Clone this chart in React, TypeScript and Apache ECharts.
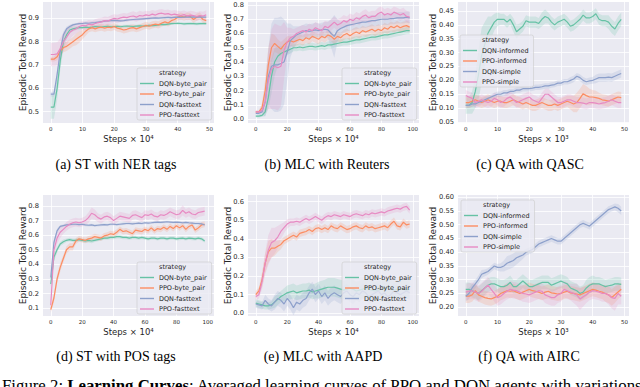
import React, { useEffect, useRef } from "react";
import * as echarts from "echarts";

const COLORS = ["#66c2a5", "#fc8d62", "#8da0cb", "#e78ac3"];
const FONT = "DejaVu Sans";
const SERIF = '"Liberation Serif", "Times New Roman", serif';

const STEPS_50 = [0,1,2,3,4,5,6,7,8,9,10,11,12,13,14,15,16,17,18,19,20,21,22,23,24,25,26,27,28,29,30,31,32,33,34,35,36,37,38,39,40,41,42,43,44,45,46,47,48,49];
const STEPS_100 = [0,2,4,6,8,10,12,14,16,18,20,22,24,26,28,30,32,34,36,38,40,42,44,46,48,50,52,54,56,58,60,62,64,66,68,70,72,74,76,78,80,82,84,86,88,90,92,94,96,98];
const TICKS_50 = [0, 10, 20, 30, 40, 50];
const TICKS_100 = [0, 20, 40, 60, 80, 100];

const NAMES_TEXT = ["DQN-byte_pair", "PPO-byte_pair", "DQN-fasttext", "PPO-fasttext"];
const NAMES_QA = ["DQN-informed", "PPO-informed", "DQN-simple", "PPO-simple"];

// (a) ST with NER tags
const A_DQN_BP = [0.52,0.52,0.60,0.72,0.80,0.83,0.85,0.855,0.858,0.86,0.86,0.862,0.86,0.862,0.865,0.864,0.862,0.865,0.866,0.864,0.865,0.866,0.864,0.866,0.867,0.866,0.865,0.867,0.868,0.867,0.868,0.87,0.869,0.87,0.872,0.874,0.873,0.875,0.877,0.878,0.879,0.878,0.876,0.877,0.878,0.877,0.876,0.877,0.878,0.877];
const A_PPO_BP = [0.725,0.725,0.735,0.76,0.775,0.78,0.79,0.80,0.81,0.82,0.83,0.845,0.855,0.86,0.855,0.86,0.862,0.858,0.862,0.86,0.865,0.858,0.855,0.85,0.853,0.858,0.86,0.855,0.86,0.865,0.87,0.866,0.872,0.875,0.872,0.88,0.885,0.88,0.89,0.895,0.905,0.91,0.905,0.91,0.908,0.895,0.905,0.91,0.895,0.89];
const A_DQN_FT = [0.575,0.575,0.66,0.76,0.83,0.855,0.865,0.872,0.875,0.877,0.878,0.88,0.879,0.881,0.882,0.884,0.886,0.888,0.889,0.89,0.891,0.89,0.889,0.89,0.892,0.894,0.895,0.896,0.897,0.898,0.899,0.9,0.901,0.902,0.901,0.902,0.903,0.904,0.903,0.904,0.905,0.904,0.905,0.906,0.905,0.906,0.905,0.906,0.905,0.905];
const A_PPO_FT = [0.745,0.745,0.748,0.77,0.80,0.82,0.84,0.85,0.855,0.865,0.87,0.868,0.875,0.872,0.878,0.882,0.885,0.89,0.888,0.895,0.9,0.897,0.902,0.905,0.903,0.908,0.91,0.905,0.912,0.91,0.915,0.912,0.918,0.914,0.92,0.922,0.918,0.92,0.915,0.918,0.915,0.912,0.916,0.91,0.914,0.912,0.908,0.912,0.91,0.915];
const A_BAND_DQN_BP = [0.05,0.05,0.05,0.04,0.03,0.02,0.015,0.01,0.008,0.007,0.006,0.006,0.006,0.006,0.006,0.006,0.006,0.006,0.006,0.006,0.006,0.006,0.006,0.006,0.006,0.006,0.006,0.006,0.006,0.006,0.006,0.006,0.006,0.006,0.006,0.006,0.006,0.006,0.006,0.006,0.006,0.006,0.006,0.006,0.006,0.006,0.006,0.006,0.006,0.006];
const A_BAND_PPO_BP = [0.01,0.01,0.015,0.02,0.02,0.02,0.02,0.02,0.025,0.025,0.02,0.02,0.015,0.015,0.015,0.015,0.015,0.015,0.015,0.015,0.015,0.015,0.015,0.015,0.015,0.015,0.015,0.015,0.015,0.015,0.015,0.015,0.015,0.015,0.015,0.015,0.015,0.015,0.015,0.015,0.015,0.015,0.015,0.015,0.015,0.015,0.015,0.015,0.015,0.015];
const A_BAND_DQN_FT = [0.01,0.01,0.02,0.02,0.015,0.01,0.008,0.006,0.005,0.005,0.005,0.005,0.005,0.005,0.005,0.005,0.005,0.005,0.005,0.005,0.005,0.005,0.005,0.005,0.005,0.005,0.005,0.005,0.005,0.005,0.005,0.005,0.005,0.005,0.005,0.005,0.005,0.005,0.005,0.005,0.005,0.005,0.005,0.005,0.005,0.005,0.005,0.005,0.005,0.005];
const A_BAND_PPO_FT = [0.05,0.05,0.05,0.045,0.04,0.035,0.03,0.025,0.02,0.02,0.018,0.018,0.018,0.018,0.018,0.018,0.018,0.018,0.018,0.018,0.018,0.018,0.018,0.018,0.018,0.018,0.02,0.02,0.02,0.018,0.018,0.018,0.018,0.018,0.018,0.018,0.018,0.018,0.018,0.018,0.018,0.018,0.018,0.018,0.018,0.018,0.018,0.018,0.018,0.02];

// (b) MLC with Reuters
const B_DQN_BP = [0.02,0.02,0.025,0.05,0.15,0.30,0.40,0.44,0.46,0.47,0.48,0.49,0.50,0.50,0.505,0.50,0.505,0.51,0.51,0.505,0.51,0.515,0.51,0.52,0.52,0.525,0.53,0.535,0.54,0.54,0.545,0.55,0.555,0.555,0.56,0.565,0.57,0.575,0.575,0.58,0.585,0.59,0.59,0.595,0.60,0.605,0.61,0.615,0.62,0.62];
const B_PPO_BP = [0.05,0.05,0.08,0.2,0.38,0.50,0.53,0.51,0.49,0.52,0.54,0.55,0.54,0.55,0.56,0.55,0.57,0.56,0.58,0.57,0.56,0.58,0.57,0.59,0.58,0.56,0.58,0.57,0.59,0.60,0.585,0.60,0.61,0.60,0.62,0.61,0.62,0.63,0.615,0.63,0.62,0.64,0.63,0.65,0.64,0.655,0.64,0.65,0.655,0.645];
const B_DQN_FT = [0.04,0.04,0.05,0.12,0.30,0.37,0.38,0.38,0.39,0.40,0.47,0.55,0.57,0.59,0.60,0.61,0.62,0.615,0.62,0.625,0.62,0.625,0.63,0.625,0.60,0.58,0.62,0.635,0.645,0.655,0.66,0.665,0.67,0.675,0.68,0.68,0.685,0.69,0.69,0.695,0.70,0.70,0.70,0.705,0.705,0.71,0.71,0.71,0.715,0.71];
const B_PPO_FT = [0.05,0.05,0.06,0.12,0.27,0.35,0.37,0.36,0.37,0.48,0.54,0.57,0.58,0.60,0.61,0.62,0.61,0.63,0.62,0.64,0.63,0.62,0.65,0.64,0.66,0.68,0.66,0.67,0.69,0.68,0.70,0.69,0.71,0.70,0.72,0.73,0.71,0.72,0.72,0.74,0.75,0.73,0.74,0.73,0.75,0.74,0.73,0.74,0.72,0.715];
const B_BAND_DQN_BP = [0.01,0.01,0.01,0.03,0.08,0.12,0.1,0.07,0.05,0.04,0.03,0.03,0.025,0.025,0.025,0.025,0.025,0.025,0.025,0.025,0.025,0.025,0.025,0.025,0.025,0.025,0.025,0.025,0.025,0.025,0.025,0.025,0.025,0.025,0.025,0.025,0.025,0.025,0.025,0.025,0.025,0.025,0.025,0.025,0.025,0.025,0.025,0.025,0.025,0.025];
const B_BAND_PPO_BP = [0.01,0.01,0.03,0.08,0.12,0.1,0.06,0.05,0.05,0.04,0.04,0.035,0.035,0.035,0.035,0.035,0.035,0.035,0.035,0.035,0.035,0.035,0.035,0.035,0.035,0.035,0.035,0.035,0.035,0.035,0.035,0.035,0.035,0.035,0.035,0.035,0.035,0.035,0.035,0.035,0.035,0.035,0.035,0.035,0.035,0.035,0.035,0.035,0.035,0.035];
const B_BAND_DQN_FT = [0.01,0.01,0.02,0.1,0.2,0.3,0.33,0.33,0.33,0.3,0.2,0.12,0.08,0.06,0.05,0.05,0.05,0.05,0.05,0.05,0.05,0.05,0.05,0.06,0.1,0.15,0.08,0.05,0.04,0.04,0.04,0.04,0.04,0.04,0.04,0.04,0.04,0.04,0.04,0.04,0.04,0.04,0.04,0.04,0.04,0.04,0.04,0.04,0.04,0.04];
const B_BAND_PPO_FT = [0.01,0.01,0.02,0.08,0.2,0.28,0.3,0.3,0.28,0.2,0.1,0.07,0.05,0.04,0.04,0.04,0.04,0.04,0.04,0.04,0.04,0.04,0.04,0.04,0.04,0.04,0.04,0.04,0.04,0.04,0.04,0.04,0.04,0.04,0.04,0.04,0.04,0.04,0.04,0.04,0.04,0.04,0.04,0.04,0.04,0.04,0.04,0.04,0.04,0.04];

// (c) QA with QASC
const C_DQN_INF = [0.11,0.11,0.12,0.16,0.22,0.29,0.33,0.37,0.39,0.41,0.42,0.42,0.42,0.41,0.42,0.40,0.375,0.385,0.395,0.415,0.41,0.41,0.41,0.405,0.42,0.43,0.425,0.41,0.40,0.41,0.415,0.42,0.41,0.395,0.40,0.41,0.42,0.435,0.425,0.425,0.43,0.44,0.42,0.415,0.415,0.41,0.395,0.385,0.405,0.42];
const C_PPO_INF = [0.12,0.12,0.125,0.13,0.125,0.12,0.125,0.13,0.125,0.12,0.125,0.125,0.12,0.12,0.125,0.13,0.125,0.12,0.115,0.12,0.115,0.11,0.11,0.115,0.12,0.115,0.11,0.11,0.115,0.11,0.115,0.12,0.125,0.12,0.115,0.12,0.135,0.152,0.145,0.14,0.14,0.138,0.135,0.13,0.128,0.125,0.13,0.135,0.14,0.138];
const C_DQN_SIM = [0.11,0.11,0.115,0.115,0.12,0.125,0.13,0.135,0.14,0.145,0.15,0.15,0.155,0.155,0.16,0.16,0.165,0.165,0.17,0.17,0.17,0.172,0.175,0.175,0.177,0.18,0.18,0.183,0.185,0.19,0.19,0.195,0.195,0.20,0.205,0.215,0.21,0.20,0.195,0.198,0.20,0.205,0.21,0.21,0.21,0.212,0.21,0.215,0.22,0.225];
const C_PPO_SIM = [0.145,0.14,0.135,0.12,0.125,0.13,0.125,0.12,0.125,0.135,0.13,0.12,0.125,0.135,0.14,0.13,0.12,0.125,0.13,0.135,0.14,0.13,0.125,0.12,0.135,0.15,0.15,0.14,0.13,0.12,0.12,0.125,0.13,0.13,0.125,0.12,0.12,0.118,0.115,0.12,0.12,0.118,0.115,0.118,0.12,0.125,0.13,0.125,0.12,0.12];
const C_BAND_DQN_INF = [0.03,0.03,0.04,0.06,0.09,0.1,0.08,0.06,0.04,0.03,0.025,0.02,0.02,0.02,0.02,0.025,0.025,0.02,0.02,0.02,0.02,0.02,0.02,0.02,0.025,0.025,0.02,0.02,0.02,0.02,0.02,0.02,0.02,0.02,0.02,0.02,0.02,0.02,0.02,0.02,0.02,0.02,0.02,0.02,0.02,0.025,0.025,0.025,0.025,0.025];
const C_BAND_PPO_INF = [0.02,0.02,0.02,0.02,0.02,0.02,0.02,0.02,0.02,0.02,0.02,0.02,0.02,0.02,0.02,0.02,0.02,0.02,0.02,0.02,0.02,0.02,0.02,0.02,0.02,0.02,0.02,0.02,0.02,0.02,0.02,0.02,0.02,0.025,0.03,0.035,0.035,0.035,0.035,0.03,0.025,0.025,0.02,0.02,0.02,0.02,0.02,0.02,0.02,0.02];
const C_BAND_DQN_SIM = [0.01,0.01,0.01,0.01,0.01,0.01,0.01,0.01,0.01,0.01,0.01,0.01,0.01,0.01,0.01,0.01,0.01,0.01,0.01,0.01,0.01,0.01,0.01,0.01,0.01,0.01,0.01,0.01,0.01,0.01,0.01,0.01,0.01,0.012,0.012,0.012,0.012,0.012,0.012,0.012,0.012,0.015,0.015,0.015,0.015,0.015,0.015,0.015,0.015,0.015];
const C_BAND_PPO_SIM = [0.02,0.02,0.02,0.02,0.02,0.02,0.02,0.02,0.02,0.02,0.02,0.02,0.02,0.02,0.02,0.02,0.02,0.02,0.02,0.02,0.02,0.02,0.02,0.02,0.02,0.02,0.02,0.02,0.02,0.02,0.02,0.02,0.02,0.02,0.02,0.02,0.02,0.02,0.02,0.02,0.02,0.02,0.02,0.02,0.02,0.02,0.02,0.02,0.02,0.02];

// (d) ST with POS tags
const D_DQN_BP = [0.265,0.45,0.50,0.54,0.555,0.565,0.57,0.565,0.565,0.57,0.565,0.56,0.565,0.56,0.565,0.57,0.575,0.58,0.58,0.585,0.585,0.59,0.59,0.585,0.585,0.58,0.585,0.585,0.58,0.585,0.58,0.575,0.58,0.58,0.575,0.58,0.58,0.575,0.58,0.58,0.575,0.578,0.58,0.575,0.58,0.578,0.575,0.58,0.575,0.56];
const D_PPO_BP = [0.09,0.17,0.30,0.38,0.44,0.50,0.52,0.52,0.56,0.575,0.57,0.565,0.575,0.58,0.59,0.585,0.58,0.595,0.60,0.61,0.605,0.62,0.64,0.625,0.63,0.62,0.61,0.635,0.63,0.625,0.64,0.63,0.65,0.63,0.645,0.64,0.655,0.64,0.66,0.645,0.665,0.65,0.665,0.64,0.66,0.67,0.635,0.65,0.67,0.675];
const D_DQN_FT = [0.31,0.55,0.63,0.66,0.665,0.67,0.672,0.675,0.675,0.672,0.675,0.67,0.668,0.67,0.665,0.668,0.67,0.672,0.67,0.675,0.675,0.672,0.675,0.678,0.68,0.68,0.678,0.68,0.682,0.68,0.685,0.683,0.685,0.688,0.69,0.688,0.69,0.692,0.69,0.688,0.69,0.688,0.685,0.688,0.685,0.683,0.68,0.68,0.678,0.67];
const D_PPO_FT = [0.12,0.50,0.58,0.62,0.64,0.66,0.675,0.685,0.69,0.685,0.69,0.70,0.72,0.75,0.74,0.72,0.71,0.725,0.73,0.72,0.70,0.715,0.73,0.725,0.72,0.715,0.735,0.74,0.73,0.72,0.74,0.735,0.745,0.73,0.725,0.74,0.735,0.745,0.76,0.75,0.74,0.745,0.77,0.75,0.76,0.745,0.74,0.755,0.76,0.765];
const D_BAND_DQN_BP = [0.02,0.03,0.02,0.015,0.015,0.012,0.012,0.012,0.012,0.012,0.012,0.012,0.015,0.015,0.012,0.012,0.012,0.012,0.012,0.012,0.012,0.012,0.012,0.012,0.012,0.012,0.012,0.012,0.012,0.012,0.012,0.012,0.012,0.012,0.012,0.012,0.012,0.012,0.012,0.012,0.012,0.012,0.012,0.012,0.012,0.012,0.012,0.012,0.012,0.012];
const D_BAND_PPO_BP = [0.02,0.03,0.03,0.03,0.025,0.025,0.025,0.025,0.02,0.02,0.02,0.02,0.02,0.02,0.02,0.02,0.02,0.02,0.02,0.02,0.02,0.02,0.02,0.02,0.02,0.02,0.02,0.02,0.02,0.02,0.02,0.02,0.02,0.02,0.02,0.02,0.02,0.02,0.02,0.02,0.02,0.02,0.02,0.02,0.02,0.02,0.02,0.02,0.02,0.02];
const D_BAND_DQN_FT = [0.02,0.02,0.015,0.01,0.008,0.008,0.008,0.008,0.008,0.008,0.008,0.008,0.008,0.008,0.008,0.008,0.008,0.008,0.008,0.008,0.008,0.008,0.008,0.008,0.008,0.008,0.008,0.008,0.008,0.008,0.008,0.008,0.008,0.008,0.008,0.008,0.008,0.008,0.008,0.008,0.008,0.008,0.008,0.008,0.008,0.008,0.008,0.008,0.008,0.008];
const D_BAND_PPO_FT = [0.03,0.05,0.04,0.04,0.03,0.03,0.03,0.03,0.03,0.03,0.03,0.03,0.035,0.04,0.035,0.03,0.03,0.03,0.03,0.03,0.03,0.03,0.03,0.03,0.03,0.03,0.03,0.03,0.03,0.03,0.03,0.03,0.03,0.03,0.03,0.03,0.03,0.03,0.03,0.03,0.03,0.03,0.035,0.03,0.03,0.03,0.03,0.03,0.03,0.03];

// (e) MLC with AAPD
const E_DQN_BP = [0.055,0.05,0.045,0.04,0.04,0.045,0.06,0.075,0.09,0.10,0.11,0.115,0.12,0.11,0.115,0.12,0.12,0.125,0.115,0.12,0.125,0.13,0.135,0.14,0.14,0.14,0.135,0.13,0.125,0.13,0.135,0.13,0.12,0.125,0.13,0.135,0.13,0.125,0.12,0.125,0.13,0.135,0.14,0.13,0.125,0.13,0.135,0.13,0.125,0.13];
const E_PPO_BP = [0.10,0.12,0.18,0.27,0.33,0.35,0.35,0.36,0.37,0.39,0.40,0.41,0.42,0.41,0.43,0.435,0.44,0.45,0.44,0.455,0.46,0.45,0.46,0.45,0.47,0.46,0.455,0.47,0.46,0.45,0.455,0.465,0.47,0.46,0.455,0.47,0.46,0.465,0.455,0.46,0.465,0.47,0.46,0.48,0.495,0.47,0.465,0.49,0.475,0.48];
const E_DQN_FT = [0.05,0.045,0.04,0.07,0.05,0.04,0.06,0.08,0.07,0.05,0.08,0.06,0.03,0.06,0.05,0.07,0.08,0.11,0.13,0.10,0.12,0.09,0.11,0.08,0.10,0.11,0.10,0.09,0.11,0.12,0.10,0.09,0.11,0.10,0.12,0.11,0.09,0.10,0.11,0.12,0.10,0.11,0.09,0.10,0.12,0.11,0.10,0.11,0.12,0.11];
const E_PPO_FT = [0.09,0.10,0.17,0.27,0.34,0.38,0.39,0.41,0.44,0.46,0.48,0.49,0.49,0.495,0.49,0.50,0.51,0.50,0.51,0.52,0.51,0.50,0.515,0.525,0.52,0.53,0.525,0.52,0.53,0.525,0.52,0.53,0.535,0.53,0.525,0.535,0.53,0.54,0.535,0.54,0.545,0.54,0.55,0.555,0.56,0.565,0.56,0.57,0.575,0.555];
const E_BAND_DQN_BP = [0.02,0.02,0.02,0.02,0.02,0.02,0.03,0.03,0.03,0.035,0.04,0.04,0.04,0.04,0.04,0.04,0.04,0.04,0.04,0.04,0.045,0.045,0.045,0.05,0.05,0.05,0.05,0.05,0.05,0.05,0.05,0.05,0.05,0.05,0.05,0.05,0.05,0.05,0.05,0.05,0.05,0.05,0.05,0.05,0.05,0.05,0.05,0.05,0.05,0.05];
const E_BAND_PPO_BP = [0.02,0.02,0.04,0.05,0.06,0.05,0.04,0.03,0.025,0.02,0.02,0.02,0.02,0.02,0.02,0.02,0.02,0.02,0.02,0.02,0.02,0.02,0.02,0.02,0.02,0.02,0.02,0.02,0.02,0.02,0.02,0.02,0.02,0.02,0.02,0.02,0.02,0.02,0.02,0.02,0.02,0.02,0.02,0.02,0.02,0.02,0.02,0.02,0.02,0.02];
const E_BAND_DQN_FT = [0.02,0.02,0.02,0.03,0.03,0.03,0.04,0.04,0.04,0.04,0.04,0.04,0.04,0.04,0.04,0.04,0.04,0.04,0.04,0.04,0.04,0.04,0.04,0.04,0.04,0.04,0.04,0.04,0.04,0.04,0.04,0.04,0.04,0.04,0.04,0.04,0.04,0.04,0.04,0.04,0.04,0.04,0.04,0.04,0.04,0.04,0.04,0.04,0.04,0.04];
const E_BAND_PPO_FT = [0.02,0.02,0.04,0.06,0.08,0.08,0.07,0.06,0.04,0.03,0.025,0.02,0.02,0.02,0.02,0.02,0.02,0.02,0.02,0.02,0.02,0.02,0.02,0.02,0.02,0.02,0.02,0.02,0.02,0.02,0.02,0.02,0.02,0.02,0.02,0.02,0.02,0.02,0.02,0.02,0.02,0.02,0.02,0.02,0.02,0.02,0.02,0.02,0.02,0.02];

// (f) QA with AIRC
const F_DQN_INF = [0.265,0.265,0.26,0.255,0.25,0.26,0.27,0.28,0.285,0.285,0.28,0.275,0.275,0.28,0.29,0.275,0.275,0.285,0.295,0.285,0.275,0.275,0.28,0.285,0.29,0.29,0.29,0.28,0.285,0.29,0.295,0.29,0.285,0.27,0.265,0.26,0.25,0.255,0.27,0.28,0.285,0.285,0.285,0.28,0.275,0.278,0.28,0.285,0.285,0.283];
const F_PPO_INF = [0.24,0.24,0.245,0.26,0.245,0.24,0.235,0.232,0.23,0.235,0.24,0.25,0.255,0.26,0.258,0.26,0.255,0.25,0.255,0.26,0.265,0.26,0.258,0.255,0.25,0.255,0.258,0.252,0.25,0.248,0.25,0.255,0.258,0.252,0.25,0.248,0.245,0.25,0.255,0.26,0.265,0.262,0.258,0.255,0.25,0.245,0.235,0.245,0.255,0.265];
const F_DQN_SIM = [0.24,0.25,0.27,0.285,0.30,0.32,0.325,0.33,0.34,0.35,0.345,0.345,0.35,0.36,0.365,0.37,0.38,0.385,0.39,0.40,0.405,0.41,0.42,0.43,0.435,0.44,0.445,0.45,0.445,0.44,0.44,0.45,0.46,0.47,0.48,0.49,0.50,0.505,0.50,0.495,0.505,0.515,0.525,0.535,0.545,0.555,0.56,0.565,0.56,0.55];
const F_PPO_SIM = [0.255,0.258,0.26,0.255,0.25,0.258,0.27,0.28,0.265,0.25,0.235,0.24,0.25,0.258,0.265,0.262,0.26,0.255,0.25,0.248,0.245,0.25,0.255,0.26,0.258,0.245,0.24,0.235,0.235,0.245,0.25,0.265,0.26,0.255,0.25,0.245,0.23,0.238,0.245,0.255,0.26,0.258,0.255,0.25,0.25,0.245,0.235,0.232,0.25,0.24];
const F_BAND_DQN_INF = [0.025,0.025,0.025,0.025,0.025,0.025,0.025,0.025,0.025,0.025,0.025,0.025,0.025,0.025,0.025,0.025,0.025,0.025,0.025,0.025,0.025,0.025,0.025,0.025,0.025,0.025,0.025,0.025,0.025,0.025,0.025,0.025,0.025,0.025,0.025,0.025,0.025,0.025,0.03,0.03,0.03,0.025,0.025,0.025,0.025,0.025,0.025,0.025,0.025,0.025];
const F_BAND_PPO_INF = [0.025,0.025,0.025,0.025,0.025,0.025,0.025,0.025,0.025,0.025,0.025,0.025,0.025,0.025,0.025,0.025,0.025,0.025,0.025,0.025,0.025,0.025,0.025,0.025,0.025,0.025,0.025,0.025,0.025,0.025,0.025,0.025,0.025,0.025,0.025,0.025,0.025,0.025,0.025,0.025,0.025,0.025,0.025,0.025,0.03,0.03,0.03,0.03,0.025,0.025];
const F_BAND_DQN_SIM = [0.02,0.02,0.015,0.015,0.015,0.015,0.012,0.012,0.012,0.012,0.012,0.015,0.02,0.025,0.025,0.025,0.025,0.02,0.015,0.012,0.012,0.012,0.012,0.012,0.012,0.012,0.012,0.012,0.012,0.012,0.012,0.012,0.012,0.012,0.012,0.012,0.012,0.012,0.012,0.012,0.012,0.012,0.012,0.012,0.012,0.012,0.012,0.012,0.015,0.015];
const F_BAND_PPO_SIM = [0.03,0.03,0.03,0.03,0.03,0.03,0.03,0.03,0.03,0.03,0.03,0.03,0.03,0.03,0.03,0.03,0.03,0.03,0.03,0.03,0.03,0.03,0.03,0.03,0.03,0.03,0.03,0.03,0.03,0.03,0.03,0.03,0.03,0.03,0.035,0.04,0.04,0.035,0.03,0.03,0.03,0.03,0.03,0.03,0.03,0.035,0.04,0.045,0.04,0.03];

const PANELS = [
  { left: 43, top: 2, steps: STEPS_50, xMin: -2.45, xMax: 51.45, xTicks: TICKS_50, yMin: 0.4516, yMax: 0.970, yTicks: [0.5, 0.6, 0.7, 0.8, 0.9], yDec: 1, names: NAMES_TEXT,
    means: [A_DQN_BP, A_PPO_BP, A_DQN_FT, A_PPO_FT], bands: [A_BAND_DQN_BP, A_BAND_PPO_BP, A_BAND_DQN_FT, A_BAND_PPO_FT], leg: [137, 68], xName: "Steps × 10⁴", caption: "(a) ST with NER tags", cap: [116, 164] },
  { left: 248, top: 2, steps: STEPS_100, xMin: -4.95, xMax: 103.95, xTicks: TICKS_100, yMin: -0.028, yMax: 0.821, yTicks: [0, 0.1, 0.2, 0.3, 0.4, 0.5, 0.6, 0.7, 0.8], yDec: 1, names: NAMES_TEXT,
    means: [B_DQN_BP, B_PPO_BP, B_DQN_FT, B_PPO_FT], bands: [B_BAND_DQN_BP, B_BAND_PPO_BP, B_BAND_DQN_FT, B_BAND_PPO_FT], leg: [342, 68], xName: "Steps × 10⁴", caption: "(b) MLC with Reuters", cap: [327, 164] },
  { left: 458, top: 2, steps: STEPS_50, xMin: -2.45, xMax: 51.45, xTicks: TICKS_50, yMin: 0.0464, yMax: 0.4824, yTicks: [0.05, 0.1, 0.15, 0.2, 0.25, 0.3, 0.35, 0.4, 0.45], yDec: 2, names: NAMES_QA,
    means: [C_DQN_INF, C_PPO_INF, C_DQN_SIM, C_PPO_SIM], bands: [C_BAND_DQN_INF, C_BAND_PPO_INF, C_BAND_DQN_SIM, C_BAND_PPO_SIM], leg: [460, 35], xName: "Steps × 10³", caption: "(c) QA with QASC", cap: [530, 164] },
  { left: 43, top: 195, steps: STEPS_100, xMin: -4.95, xMax: 103.95, xTicks: TICKS_100, yMin: 0.047, yMax: 0.875, yTicks: [0.1, 0.2, 0.3, 0.4, 0.5, 0.6, 0.7, 0.8], yDec: 1, names: NAMES_TEXT,
    means: [D_DQN_BP, D_PPO_BP, D_DQN_FT, D_PPO_FT], bands: [D_BAND_DQN_BP, D_BAND_PPO_BP, D_BAND_DQN_FT, D_BAND_PPO_FT], leg: [137, 262], xName: "Steps × 10⁴", caption: "(d) ST with POS tags", cap: [116, 356] },
  { left: 248, top: 195, steps: STEPS_100, xMin: -4.95, xMax: 103.95, xTicks: TICKS_100, yMin: -0.0145, yMax: 0.636, yTicks: [0, 0.1, 0.2, 0.3, 0.4, 0.5, 0.6], yDec: 1, names: NAMES_TEXT,
    means: [E_DQN_BP, E_PPO_BP, E_DQN_FT, E_PPO_FT], bands: [E_BAND_DQN_BP, E_BAND_PPO_BP, E_BAND_DQN_FT, E_BAND_PPO_FT], leg: [342, 262], xName: "Steps × 10⁴", caption: "(e) MLC with AAPD", cap: [323, 356] },
  { left: 458, top: 195, steps: STEPS_50, xMin: -2.45, xMax: 51.45, xTicks: TICKS_50, yMin: 0.168, yMax: 0.608, yTicks: [0.2, 0.25, 0.3, 0.35, 0.4, 0.45, 0.5, 0.55, 0.6], yDec: 2, names: NAMES_QA,
    means: [F_DQN_INF, F_PPO_INF, F_DQN_SIM, F_PPO_SIM], bands: [F_BAND_DQN_INF, F_BAND_PPO_INF, F_BAND_DQN_SIM, F_BAND_PPO_SIM], leg: [461, 200], xName: "Steps × 10³", caption: "(f) QA with AIRC", cap: [529, 356] },
];

const PLOT_W = 171;
const PLOT_H = 121;
const TEXT = "#262626";

function bandSeries(i: number, k: number, steps: number[], mean: number[], band: number[]) {
  const rows = steps.map((x, j) => [x, mean[j] - band[j], mean[j] + band[j]]);
  return {
    type: "custom", xAxisIndex: i, yAxisIndex: i, clip: true, silent: true, z: 1,
    encode: { x: 0, y: [1, 2] },
    data: rows,
    renderItem: (params: any, api: any) => {
      if (params.dataIndex !== 0) return null;
      const pts: number[][] = [];
      for (let j = 0; j < rows.length; j++) pts.push(api.coord([rows[j][0], rows[j][1]]));
      for (let j = rows.length - 1; j >= 0; j--) pts.push(api.coord([rows[j][0], rows[j][2]]));
      return { type: "polygon", shape: { points: pts }, style: { fill: COLORS[k], opacity: 0.2 } };
    },
  };
}

function buildOption() {
  const grid = PANELS.map((p) => ({
    left: p.left, top: p.top, width: PLOT_W, height: PLOT_H,
    show: true, backgroundColor: "#EAEAF2", borderWidth: 0,
  }));
  const xAxis = PANELS.map((p, i) => ({
    type: "value", gridIndex: i, min: p.xMin, max: p.xMax,
    axisLine: { show: false },
    axisTick: { show: false, customValues: p.xTicks },
    axisLabel: { customValues: p.xTicks, fontSize: 5.5, color: TEXT, margin: 3, fontFamily: FONT },
    splitLine: { show: true, lineStyle: { color: "#ffffff", width: 0.8 } },
    name: p.xName, nameLocation: "middle", nameGap: 11, nameMoveOverlap: false,
    nameTextStyle: { fontSize: 8.5, color: TEXT, fontFamily: FONT },
  }));
  const yAxis = PANELS.map((p, i) => ({
    type: "value", gridIndex: i, min: p.yMin, max: p.yMax,
    axisLine: { show: false },
    axisTick: { show: false, customValues: p.yTicks },
    axisLabel: { customValues: p.yTicks, fontSize: 6.7, color: TEXT, margin: 4, fontFamily: FONT,
      formatter: (v: number) => v.toFixed(p.yDec) },
    splitLine: { show: true, lineStyle: { color: "#ffffff", width: 0.8 } },
    name: "Episodic Total Reward", nameLocation: "middle", nameGap: p.yDec === 2 ? 20.5 : 16, nameRotate: 90, nameMoveOverlap: false,
    nameTextStyle: { fontSize: 9, color: TEXT, fontFamily: FONT },
  }));
  const series: any[] = [
    { type: "line", name: "strategy", xAxisIndex: 0, yAxisIndex: 0, data: [], symbol: "none", itemStyle: { color: "rgba(0,0,0,0)" } },
  ];
  PANELS.forEach((p, i) => {
    p.means.forEach((mean, k) => {
      series.push(bandSeries(i, k, p.steps, mean, p.bands[k]));
    });
    p.means.forEach((mean, k) => {
      series.push({
        type: "line", name: p.names[k], xAxisIndex: i, yAxisIndex: i,
        data: p.steps.map((x, j) => [x, mean[j]]),
        symbol: "none", lineStyle: { color: COLORS[k], width: 1.2 }, itemStyle: { color: COLORS[k] }, z: 2,
      });
    });
  });
  const legend = PANELS.map((p) => ({
    data: [{ name: "strategy", itemStyle: { opacity: 0 } }, ...p.names],
    left: p.leg[0], top: p.leg[1], orient: "vertical", icon: "rect",
    itemWidth: 14, itemHeight: 1.4, itemGap: 2.5, selectedMode: false,
    backgroundColor: "rgba(234,234,242,0.8)", borderColor: "rgba(204,204,204,0.8)", borderWidth: 0.8, borderRadius: 2,
    padding: [1, 5, 1, 3],
    textStyle: { fontSize: 6.5, color: TEXT, fontFamily: FONT, lineHeight: 8 },
  }));
  const graphic: any[] = PANELS.map((p) => ({
    type: "text", x: p.cap[0], y: p.cap[1],
    style: { text: p.caption, fontSize: 14, fontFamily: SERIF, fill: "#000", align: "center", verticalAlign: "middle" },
  }));
  graphic.push({
    type: "text", x: 2, y: 385,
    style: {
      text: "{n|Figure 2: }{b|Learning Curves}{n|: Averaged learning curves of PPO and DQN agents with variations}",
      align: "left", verticalAlign: "middle", fill: "#000",
      rich: {
        n: { fontSize: 16.8, fontFamily: SERIF, fill: "#000" },
        b: { fontSize: 16.8, fontFamily: SERIF, fontWeight: "bold", fill: "#000" },
      },
    },
  });
  return { animation: false, backgroundColor: "#ffffff", textStyle: { fontFamily: FONT }, grid, xAxis, yAxis, series, legend, graphic };
}

export default function App() {
  const ref = useRef<HTMLDivElement>(null);
  useEffect(() => {
    if (!ref.current) return;
    const chart = echarts.init(ref.current, undefined, { renderer: "svg" });
    chart.setOption(buildOption() as any);
    return () => chart.dispose();
  }, []);
  return <div ref={ref} style={{ position: "absolute", left: 0, top: 0, width: 640, height: 387, background: "#fff" }} />;
}
